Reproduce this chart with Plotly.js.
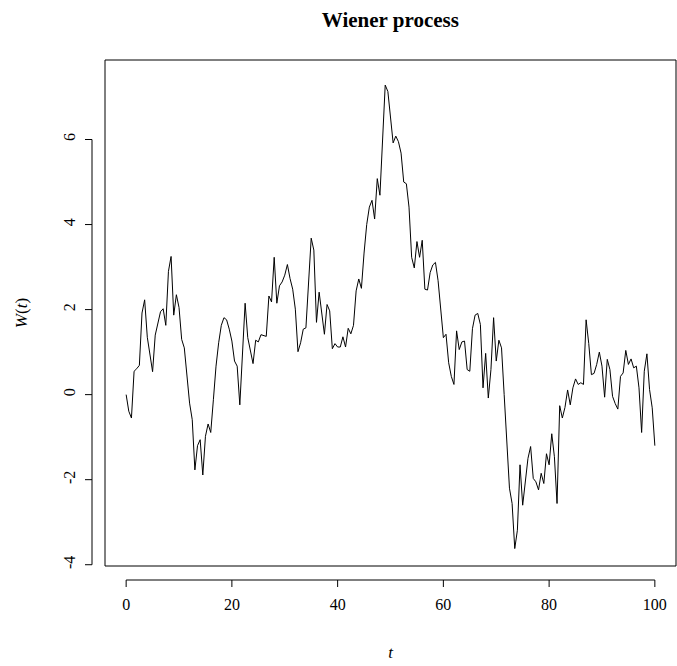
<!DOCTYPE html>
<html>
<head>
<meta charset="utf-8">
<script src="https://cdn.plot.ly/plotly-3.0.1.min.js"></script>
<style>html,body{margin:0;padding:0;background:#fff;}#chart{width:677px;height:666px;}</style>
</head>
<body>
<div id="chart"></div>
<script>
// Time grid (step 0.5) and Wiener process values
const tStart = 0, tStep = 0.5;
const W = [
 0.00,-0.39,-0.55, 0.55, 0.61, 0.69, 1.92, 2.23, 1.35, 0.90,
 0.54, 1.40, 1.65, 1.95, 2.02, 1.63, 2.90, 3.25, 1.87, 2.35,
 2.05, 1.30, 1.10, 0.35,-0.20,-0.59,-1.77,-1.20,-1.06,-1.89,
-0.98,-0.69,-0.89,-0.12, 0.67, 1.22, 1.63, 1.81, 1.76, 1.54,
 1.26, 0.79, 0.67,-0.24, 0.90, 2.15, 1.34, 1.02, 0.73, 1.28,
 1.24, 1.41, 1.39, 1.37, 2.32, 2.18, 3.23, 2.15, 2.56, 2.65,
 2.81, 3.06, 2.73, 2.48, 2.01, 1.01, 1.22, 1.54, 1.57, 2.60,
 3.68, 3.40, 1.70, 2.41, 1.87, 1.42, 2.12, 1.97, 1.08, 1.20,
 1.12, 1.12, 1.36, 1.12, 1.56, 1.43, 1.63, 2.44, 2.72, 2.50,
 3.33, 4.00, 4.41, 4.57, 4.13, 5.08, 4.69, 5.98, 7.28, 7.13,
 6.54, 5.92, 6.08, 5.95, 5.68, 5.00, 4.96, 4.41, 3.23, 2.98,
 3.60, 3.23, 3.63, 2.48, 2.46, 2.87, 3.05, 3.11, 2.68, 2.05,
 1.34, 1.42, 0.75, 0.43, 0.24, 1.50, 1.06, 1.24, 1.26, 0.59,
 0.55, 1.55, 1.87, 1.91, 1.65, 0.16, 0.97,-0.08, 0.59, 1.81,
 0.79, 1.28, 1.10, 0.00,-1.06,-2.20,-2.56,-3.62,-3.19,-1.65,
-2.60,-2.05,-1.50,-1.22,-1.97,-2.05,-2.24,-1.85,-2.09,-1.39,
-1.65,-0.92,-1.46,-2.56,-0.26,-0.55,-0.30, 0.11,-0.24, 0.16,
 0.37, 0.24, 0.28, 0.24, 1.76, 1.20, 0.47, 0.50, 0.71, 1.00,
 0.67,-0.06, 0.83, 0.59,-0.04,-0.21,-0.34, 0.43, 0.51, 1.04,
 0.71, 0.84, 0.63, 0.67, 0.16,-0.89, 0.55, 0.96, 0.12,-0.31,
-1.20
];
const t = W.map((_, i) => tStart + i * tStep);

const xTicks = [0, 20, 40, 60, 80, 100];
const yTicks = [-4, -2, 0, 2, 4, 6];
const titleText = "<b>Wiener process</b>";
const xTitle = "<i>t</i>";
const yTitle = "<i>W</i>(<i>t</i>)";

const FONT = "Liberation Serif, Times New Roman, serif";

// R-style detached axes drawn with shapes
const plotH = 506, plotW = 571;
const xAxisY = -14 / plotH, xTickY = -21 / plotH;
const yAxisX = -13 / plotW, yTickX = -20 / plotW;
const shapes = [
  {type:'rect', xref:'paper', yref:'paper', x0:0, x1:1, y0:0, y1:1, line:{color:'#000', width:1}},
  {type:'line', xref:'x', yref:'paper', x0:xTicks[0], x1:xTicks[xTicks.length-1], y0:xAxisY, y1:xAxisY, line:{color:'#000', width:1}},
  {type:'line', xref:'paper', yref:'y', x0:yAxisX, x1:yAxisX, y0:yTicks[0], y1:yTicks[yTicks.length-1], line:{color:'#000', width:1}}
];
xTicks.forEach(v => shapes.push({type:'line', xref:'x', yref:'paper', x0:v, x1:v, y0:xAxisY, y1:xTickY, line:{color:'#000', width:1}}));
yTicks.forEach(v => shapes.push({type:'line', xref:'paper', yref:'y', x0:yAxisX, x1:yTickX, y0:v, y1:v, line:{color:'#000', width:1}}));

const trace = {x: t, y: W, type:'scatter', mode:'lines', line:{color:'#000', width:1}, hoverinfo:'skip'};

const layout = {
  width: 677, height: 666,
  margin: {l:105, r:1, t:60, b:100},
  paper_bgcolor:'#fff', plot_bgcolor:'#fff',
  font: {family: FONT, size: 16, color:'#000'},
  showlegend: false,
  title: {text: titleText, x: 0.5766, xanchor:'center', y: 0.97, yanchor:'middle', font:{family: FONT, size: 21, color:'#000'}},
  xaxis: {
    range: [-4, 104], tickvals: xTicks, ticktext: xTicks.map(String),
    showgrid:false, zeroline:false, showline:false, ticks:'',
    ticklabelstandoff: 27,
    title: {text: xTitle, standoff: 34, font:{family: FONT, size: 17}}
  },
  yaxis: {
    range: [-4.03, 7.87], tickvals: yTicks, ticktext: yTicks.map(String),
    showgrid:false, zeroline:false, showline:false, ticks:'', tickangle:-90,
    ticklabelstandoff: 26,
    title: {text: yTitle, standoff: 28, font:{family: FONT, size: 17}}
  },
  shapes: shapes
};

Plotly.newPlot('chart', [trace], layout, {staticPlot:true, displayModeBar:false});
</script>
</body>
</html>
